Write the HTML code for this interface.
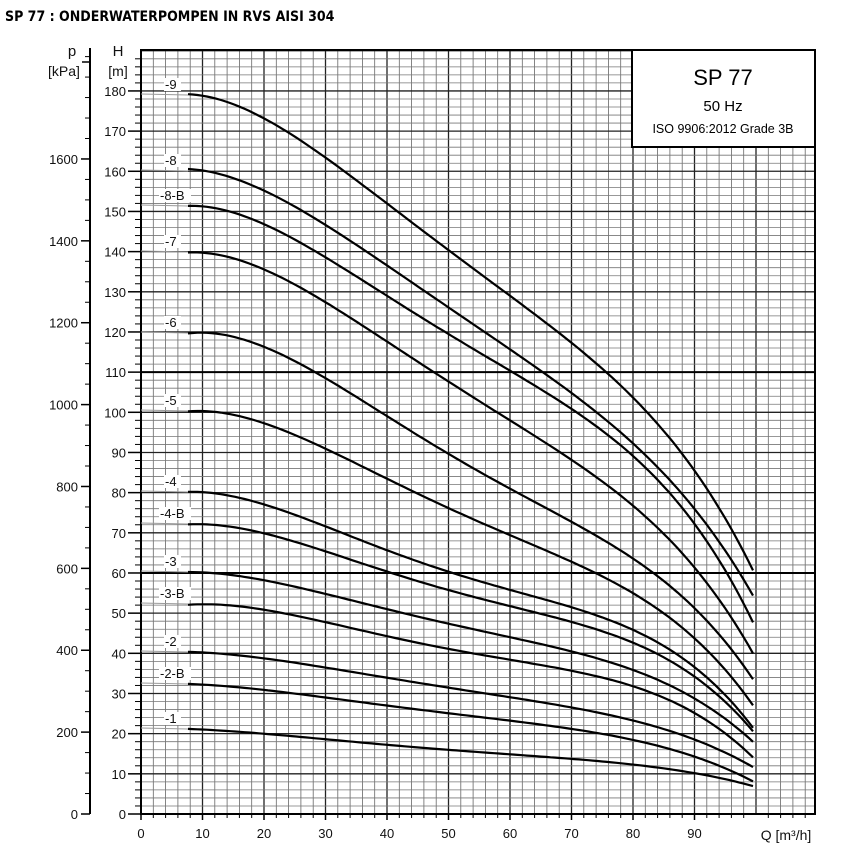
<!DOCTYPE html>
<html><head><meta charset="utf-8"><style>
body{margin:0;background:#fff;width:850px;height:855px;overflow:hidden}
svg{display:block;font-family:"Liberation Sans",sans-serif}
</style></head><body>
<svg id="s" width="850" height="855" viewBox="0 0 850 855">
<text x="5" y="21" font-size="14" font-weight="bold" font-family="'DejaVu Sans Condensed','Liberation Sans Narrow','Liberation Sans',sans-serif">SP 77 : ONDERWATERPOMPEN IN RVS AISI 304</text>
<g id="grid"></g>
<g id="ax" stroke="#000" fill="none"></g>
<g font-size="13" fill="#111">
<text x="72" y="56" text-anchor="middle" font-size="15">p</text>
<text x="64" y="76" text-anchor="middle" font-size="14">[kPa]</text>
<text x="118" y="56" text-anchor="middle" font-size="15">H</text>
<text x="118" y="76" text-anchor="middle" font-size="14">[m]</text>
<text x="786" y="840" text-anchor="middle" font-size="14">Q [m³/h]</text>
</g>
<g id="tl" font-size="13" fill="#111"></g>
<g id="curves" fill="none"></g>
<rect x="632" y="50" width="183" height="97" fill="#fff" stroke="#000" stroke-width="2"/>
<text x="723" y="85" text-anchor="middle" font-size="22">SP 77</text>
<text x="723" y="111" text-anchor="middle" font-size="15">50 Hz</text>
<text x="723" y="133" text-anchor="middle" font-size="12.5">ISO 9906:2012 Grade 3B</text>
<g id="lb" font-size="13" fill="#111"></g>
</svg>
<script>
const NS="http://www.w3.org/2000/svg";
function el(p,t,a,txt){const e=document.createElementNS(NS,t);for(const k in a)e.setAttribute(k,a[k]);if(txt!==undefined)e.textContent=txt;document.getElementById(p).appendChild(e);return e;}
const X0=141,X1=815,Y0=814,Y1=50,sx=6.15,sy=4.017;
for(let q=0;q<=110;q+=2){const x=X0+q*sx;if(x>X1)break;const maj=q%10==0;
 el("grid","line",{x1:x,y1:Y1,x2:x,y2:Y0,stroke:maj?"#222":"#666","stroke-width":maj?1.3:0.8});}
for(let h=0;h<=190;h+=2){const y=Y0-h*sy;if(y<Y1)break;const maj=h%10==0,big=(h==60||h==110);
 el("grid","line",{x1:X0,y1:y,x2:X1,y2:y,stroke:big?"#000":maj?"#222":"#777","stroke-width":big?2:maj?1.3:0.8});}
el("ax","rect",{x:X0,y:Y1,width:X1-X0,height:Y0-Y1,"stroke-width":2});
for(let h=0;h<=180;h+=10){const y=Y0-h*sy;el("ax","line",{x1:128,y1:y,x2:X0,y2:y,"stroke-width":1.5});
 el("tl","text",{x:126,y:y+5,"text-anchor":"end"},h);}
for(let h=2;h<=190;h+=2){if(h%10==0)continue;const y=Y0-h*sy;el("ax","line",{x1:135,y1:y,x2:X0,y2:y,"stroke-width":1});}
for(let q=0;q<=90;q+=10){const x=X0+q*sx;el("ax","line",{x1:x,y1:Y0,x2:x,y2:Y0+6,"stroke-width":1.5});
 el("tl","text",{x:x,y:Y0+24,"text-anchor":"middle"},q);}
for(let q=2;q<=108;q+=2){if(q%10==0)continue;const x=X0+q*sx;el("ax","line",{x1:x,y1:Y0,x2:x,y2:Y0+4,"stroke-width":1});}
el("ax","line",{x1:90,y1:Y0,x2:90,y2:48,"stroke-width":2});
const sp=0.4094;
for(let p=0;p<=1850;p+=50){const y=Y0-p*sp;if(y<52)break;const maj=p%200==0&&p<=1600;el("ax","line",{x1:maj?81:85,y1:y,x2:90,y2:y,"stroke-width":maj?1.5:1});
 if(maj)el("tl","text",{x:78,y:y+5,"text-anchor":"end"},p);}
el("ax","line",{x1:82,y1:62,x2:90,y2:62,"stroke-width":1.5});
const C=[
[[188,95],[215,98],[250,110],[290,135],[330,160],[385,200],[450,255],[510,298],[570,338],[630,390],[670,440],[710,500],[753,567]],
[[188,171],[215,172],[250,182],[300,208],[360,250],[420,290],[480,330],[540,368],[600,410],[640,450],[690,510],[753,593]],
[[188,206],[215,208],[260,222],[320,255],[380,290],[440,330],[500,365],[560,400],[620,445],[670,495],[720,560],[753,623]],
[[188,252],[215,255],[260,268],[310,292],[370,330],[430,370],[490,410],[550,445],[610,485],[660,530],[710,590],[753,652]],
[[188,333],[220,335],[260,345],[320,375],[380,410],[440,450],[500,485],[560,515],[620,548],[670,585],[720,640],[753,677]],
[[188,411],[215,412],[260,423],[320,445],[380,475],[440,505],[500,530],[560,558],[620,585],[680,625],[720,665],[753,705]],
[[188,492],[215,493],[260,503],[320,525],[400,555],[480,580],[560,605],[620,625],[680,655],[720,690],[753,728]],
[[188,524],[215,525],[260,533],[320,550],[400,575],[480,597],[560,620],[620,640],[680,665],[720,695],[753,733]],
[[188,572],[215,573],[260,580],[330,595],[400,612],[480,630],[560,650],[620,665],[680,690],[720,715],[753,742]],
[[188,604],[215,605],[260,610],[330,623],[400,638],[480,654],[560,670],[620,683],[680,705],[720,727],[753,759]],
[[188,652],[215,653],[260,658],[330,668],[400,680],[480,693],[560,705],[620,717],[680,735],[720,750],[753,767]],
[[188,684],[215,685],[260,690],[330,698],[400,707],[480,717],[560,727],[620,738],[680,752],[720,765],[753,782]],
[[188,729],[260,733],[330,740],[400,746],[480,752],[560,758],[620,763],[680,771],[720,778],[753,786]]];
const L=["-9","-8","-8-B","-7","-6","-5","-4","-4-B","-3","-3-B","-2","-2-B","-1"];
function fit(p,deg){const n=deg+1;const A=[...Array(n)].map(()=>Array(n+1).fill(0));
 for(const [x0,y] of p){const t=(x0-188)/565;const pw=[];for(let i=0;i<n;i++)pw.push(Math.pow(t,i));
  for(let i=0;i<n;i++){for(let j=0;j<n;j++)A[i][j]+=pw[i]*pw[j];A[i][n]+=pw[i]*y;}}
 for(let i=0;i<n;i++){let m=i;for(let k=i+1;k<n;k++)if(Math.abs(A[k][i])>Math.abs(A[m][i]))m=k;[A[i],A[m]]=[A[m],A[i]];
  for(let k=0;k<n;k++)if(k!=i){const f=A[k][i]/A[i][i];for(let j=i;j<=n;j++)A[k][j]-=f*A[i][j];}}
 return A.map((r,i)=>r[n]/r[i]);}
C.forEach((p,ci)=>{const c=fit(p,4);let d="";
 for(let i=0;i<=120;i++){const t=i/120,x=188+t*565;let y=0;for(let k=0;k<c.length;k++)y+=c[k]*Math.pow(t,k);d+=(i?" L":"M")+x.toFixed(1)+","+y.toFixed(1);}
 el("curves","line",{x1:X0,y1:p[0][1]-1,x2:p[0][0],y2:p[0][1],stroke:"#999","stroke-width":1});
 el("curves","path",{d:d,stroke:"#000","stroke-width":2.2});
 const lab=L[ci],lx=lab.length>2?160:165,ly=p[0][1]-6;
 el("lb","rect",{x:lx-1,y:ly-11,width:lab.length*7.5+2,height:13,fill:"#fff"});
 el("lb","text",{x:lx,y:ly},lab);
});
</script>
</body></html>
